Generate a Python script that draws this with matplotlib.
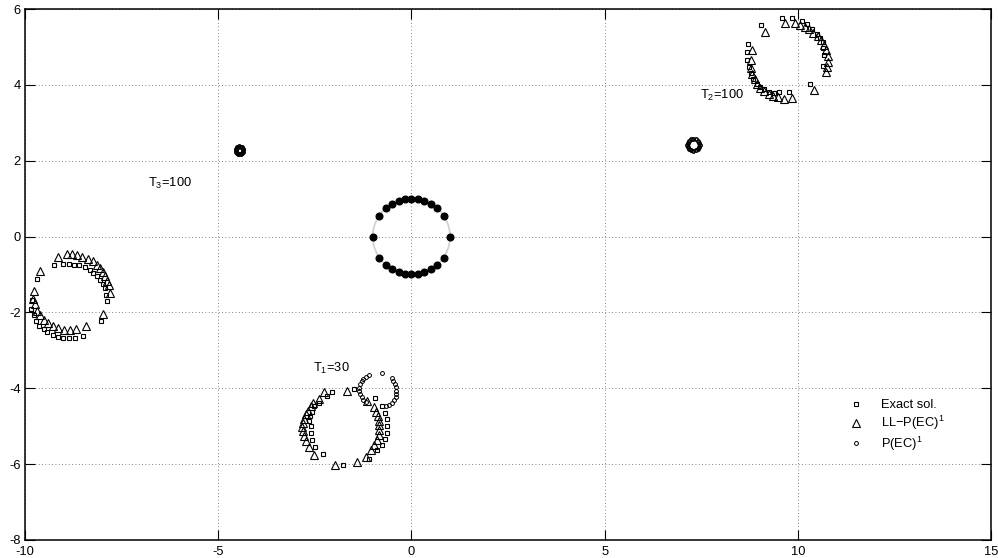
import matplotlib

matplotlib.use("Agg")
import matplotlib.pyplot as plt
from matplotlib.patches import Circle

plt.rcParams["font.family"] = ["Liberation Sans", "DejaVu Sans"]
plt.rcParams["mathtext.default"] = "regular"
plt.rcParams["axes.unicode_minus"] = False

# initial condition: points on the unit circle
init_x = [-1, -0.833, -0.667, -0.5, -0.333, -0.167, 0, 0.167, 0.333, 0.5, 0.667, 0.833,
          1, 0.833, 0.667, 0.5, 0.333, 0.167, 0, -0.167, -0.333, -0.5, -0.667, -0.833]
init_y = [0, 0.553, 0.745, 0.866, 0.943, 0.986, 1, 0.986, 0.943, 0.866, 0.745, 0.553,
          0, -0.553, -0.745, -0.866, -0.943, -0.986, -1, -0.986, -0.943, -0.866, -0.745, -0.553]
init_radius = 1.0

# T1 = 30
exact1_x = [-1.48, -2.05, -2.19, -2.38, -2.52, -2.58, -2.62, -2.64, -2.61, -2.61, -2.56, -2.50,
            -2.30, -1.76, -1.09, -0.90, -0.77, -0.68, -0.64, -0.64, -0.64, -0.68, -0.77, -0.94]
exact1_y = [-4.03, -4.10, -4.20, -4.38, -4.48, -4.62, -4.73, -4.85, -4.99, -5.17, -5.36, -5.56,
            -5.74, -6.01, -5.86, -5.63, -5.49, -5.34, -5.17, -4.99, -4.82, -4.64, -4.46, -4.26]
ll1_x = [-1.67, -2.25, -2.38, -2.54, -2.61, -2.68, -2.73, -2.78, -2.81, -2.83, -2.81, -2.78,
         -2.73, -2.66, -2.51, -1.98, -1.40, -1.18, -1.05, -0.97, -0.90, -0.85, -0.83, -0.83,
         -0.84, -0.86, -0.92, -0.98, -1.14]
ll1_y = [-4.07, -4.11, -4.29, -4.40, -4.48, -4.59, -4.69, -4.80, -4.91, -5.01, -5.13, -5.26,
         -5.40, -5.56, -5.77, -6.03, -5.94, -5.80, -5.64, -5.50, -5.36, -5.23, -5.10, -4.98,
         -4.85, -4.73, -4.62, -4.50, -4.33]
pec1_x = [-1.09, -1.17, -1.24, -1.29, -1.33, -1.35, -1.35, -1.33, -1.29, -1.24, -1.17,
          -0.51, -0.47, -0.43, -0.41, -0.40, -0.40, -0.41, -0.45, -0.50, -0.57, -0.66, -0.75]
pec1_y = [-3.66, -3.69, -3.75, -3.82, -3.90, -3.98, -4.07, -4.16, -4.24, -4.31, -4.37,
          -3.74, -3.81, -3.89, -3.97, -4.06, -4.15, -4.24, -4.31, -4.38, -4.44, -4.48, -3.61]

# T2 = 100
exact2_x = [9.58, 9.84, 10.10, 10.23, 10.36, 10.49, 10.58, 10.64, 10.66, 10.69, 10.64, 10.32,
            9.05, 8.72, 8.69, 8.69, 8.74, 8.78, 8.85, 8.94, 9.02, 9.13, 9.26, 9.39, 9.52, 9.78]
exact2_y = [5.77, 5.77, 5.69, 5.60, 5.47, 5.35, 5.24, 5.13, 4.97, 4.78, 4.50, 4.01,
            5.57, 5.09, 4.87, 4.65, 4.47, 4.30, 4.15, 4.03, 3.95, 3.88, 3.81, 3.79, 3.81, 3.81]
ll2_x = [9.15, 9.67, 9.93, 10.06, 10.19, 10.29, 10.40, 10.51, 10.60, 10.69, 10.72, 10.77,
         10.79, 10.75, 10.72, 10.42, 8.82, 8.78, 8.78, 8.82, 8.88, 8.94, 9.02, 9.13, 9.26,
         9.37, 9.50, 9.63, 9.86]
ll2_y = [5.40, 5.62, 5.62, 5.57, 5.53, 5.47, 5.38, 5.29, 5.18, 5.04, 4.91, 4.76,
         4.60, 4.47, 4.34, 3.86, 4.91, 4.65, 4.45, 4.29, 4.15, 4.02, 3.92, 3.83, 3.76,
         3.71, 3.67, 3.64, 3.66]
pec2_x = [7.46, 7.45, 7.41, 7.36, 7.30, 7.24, 7.19, 7.15, 7.14, 7.15, 7.19, 7.24, 7.30, 7.36, 7.41, 7.45]
pec2_y = [2.42, 2.48, 2.53, 2.57, 2.58, 2.57, 2.53, 2.48, 2.42, 2.36, 2.31, 2.27, 2.26, 2.27, 2.31, 2.36]

# T3 = 100
exact3_x = [-9.68, -9.83, -9.84, -9.77, -9.71, -9.63, -9.52, -9.42, -9.28, -9.14, -9.01, -8.86,
            -8.71, -8.51, -8.04, -7.89, -7.90, -7.93, -7.99, -8.06, -8.13, -8.23, -8.33, -8.46,
            -8.59, -8.72, -8.86, -9.01, -9.24]
exact3_y = [-1.12, -1.67, -1.92, -2.08, -2.23, -2.35, -2.43, -2.52, -2.59, -2.65, -2.68, -2.68,
            -2.68, -2.61, -2.23, -1.70, -1.53, -1.35, -1.25, -1.14, -1.04, -0.96, -0.87, -0.81,
            -0.76, -0.74, -0.72, -0.72, -0.76]
ll3_x = [-9.61, -9.78, -9.80, -9.74, -9.68, -9.61, -9.51, -9.40, -9.27, -9.14, -8.99, -8.84,
         -8.69, -8.42, -7.97, -7.80, -7.83, -7.87, -7.93, -7.99, -8.06, -8.14, -8.25, -8.38,
         -8.52, -8.66, -8.79, -8.92, -9.15]
ll3_y = [-0.91, -1.44, -1.64, -1.79, -1.95, -2.08, -2.20, -2.28, -2.35, -2.42, -2.46, -2.46,
         -2.44, -2.37, -2.04, -1.49, -1.29, -1.16, -1.04, -0.94, -0.83, -0.74, -0.65, -0.59,
         -0.53, -0.49, -0.47, -0.47, -0.53]
pec3_x = [-4.35, -4.36, -4.38, -4.41, -4.45, -4.49, -4.52, -4.54, -4.55, -4.54, -4.52, -4.49,
          -4.45, -4.41, -4.38, -4.36]
pec3_y = [2.28, 2.32, 2.35, 2.37, 2.38, 2.37, 2.35, 2.32, 2.28, 2.24, 2.21, 2.19,
          2.18, 2.19, 2.21, 2.24]

labels = [("$T_1$=30", -2.55, -3.48), ("$T_2$=100", 7.47, 3.72), ("$T_3$=100", -6.82, 1.40)]

fig = plt.figure(figsize=(9.98, 5.58), dpi=100)
ax = fig.add_axes([0.02505, 0.03226, 0.96794, 0.95161])

ax.add_patch(Circle((0, 0), init_radius, fill=False, edgecolor="0.82", lw=1.3, zorder=1))
ax.plot(init_x, init_y, "o", color="k", ms=4.8, zorder=3)

sq = dict(ls="none", marker="s", ms=3.2, mfc="none", mec="k", mew=0.8, zorder=4)
tri = dict(ls="none", marker="^", ms=6.0, mfc="none", mec="k", mew=0.8, zorder=4)
circ = dict(ls="none", marker="o", ms=2.8, mfc="none", mec="k", mew=0.7, zorder=4)
ring = {**circ, "ms": 2.4, "mew": 1.1}

ax.plot(exact1_x, exact1_y, label="Exact sol.", **sq)
ax.plot(exact2_x, exact2_y, **sq)
ax.plot(exact3_x, exact3_y, **sq)
ax.plot(ll1_x, ll1_y, label="LL\u2212P(EC)$^1$", **tri)
ax.plot(ll2_x, ll2_y, **tri)
ax.plot(ll3_x, ll3_y, **tri)
ax.plot(pec1_x, pec1_y, label="P(EC)$^1$", **circ)
ax.plot(pec2_x, pec2_y, **ring)
ax.plot(pec3_x, pec3_y, **ring)

for txt, tx, ty in labels:
    ax.text(tx, ty, txt, fontsize=9.3, ha="left", va="center")

ax.set_xlim(-10, 15)
ax.set_ylim(-8, 6)
ax.set_xticks([-10, -5, 0, 5, 10, 15])
ax.set_yticks([-8, -6, -4, -2, 0, 2, 4, 6])
ax.grid(True, color="0.35", ls=(0, (1, 3)), lw=0.6)
ax.tick_params(direction="in", length=7, width=0.8, top=True, right=True,
               labelsize=9.3, pad=2)
ax.tick_params(axis="x", pad=4)
ax.tick_params(axis="y", pad=3)
for s in ax.spines.values():
    s.set_linewidth(1.1)

ax.legend(loc="upper left", bbox_to_anchor=(0.842, 0.287), frameon=False,
          fontsize=9.3, numpoints=1, handlelength=1.0, handletextpad=1.4,
          borderpad=0.4, labelspacing=0.2)

fig.savefig("out.png", dpi=100)
